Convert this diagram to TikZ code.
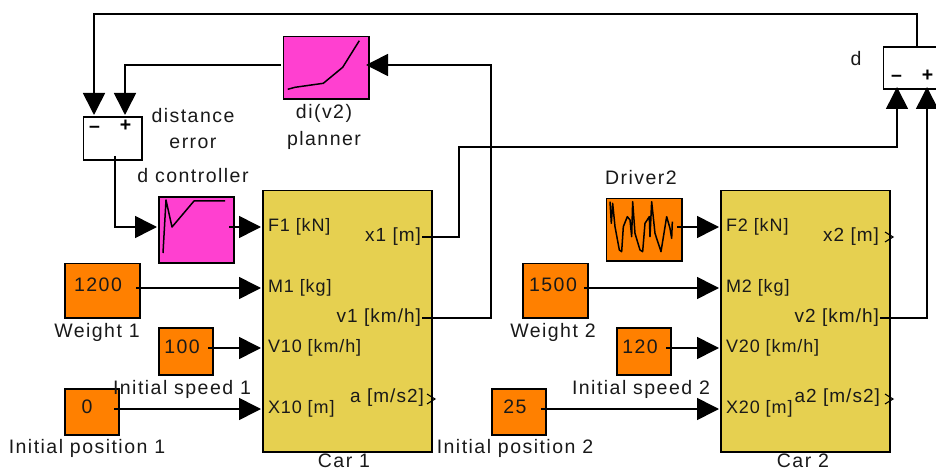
\documentclass[tikz,border=0pt]{standalone}
\usepackage{fontspec}
\setmainfont[LetterSpace=7.5]{Liberation Sans}
\newfontfamily\portfont[LetterSpace=5]{Liberation Sans}
\newfontfamily\rportfont[LetterSpace=5.5]{Liberation Sans}
\usetikzlibrary{arrows.meta}
\definecolor{orangeb}{HTML}{FF8000}
\definecolor{magb}{HTML}{FF40D0}
\definecolor{yelb}{HTML}{E6D050}
\tikzset{
  x=1pt,y=-1pt,
  block/.style={draw=black,line width=1.6pt,anchor=north west,inner sep=0pt,outer sep=0pt},
  lab/.style={font=\fontsize{19.5}{19.5}\selectfont,text=black!90,inner sep=0pt,outer sep=0pt},
  plab/.style={font=\portfont\fontsize{18}{18}\selectfont,text=black!90,inner sep=0pt,outer sep=0pt},
  rlab/.style={font=\rportfont\fontsize{19}{19}\selectfont,text=black!90,inner sep=0pt,outer sep=0pt},
  sgn/.style={font=\bfseries\fontsize{19.5}{19.5}\selectfont,text=black,inner sep=0pt,outer sep=0pt,anchor=base},
  wire/.style={line width=1.6pt,black},
  conn/.style={wire,-{Triangle[length=22pt,width=22pt]},shorten >=0pt},
  plotline/.style={line width=1.5pt,black,line join=round},
  chev/.style={line width=1.1pt,black},
}
\newcommand{\blk}[6]{\node[block,fill=#6,minimum width=#4 pt-#2 pt,minimum height=#5 pt-#3 pt] (#1) at (#2,#3) {};}
\begin{document}
\begin{tikzpicture}
\useasboundingbox (0,0) rectangle (936,470);
\clip (0,0) rectangle (936,470);
% blocks
\blk{sumA}{83.5}{117}{142}{160}{white}
\blk{plan}{283.5}{36.5}{369}{99}{magb}
\blk{ctrl}{159}{197}{234}{263}{magb}
\blk{carA}{263}{190.5}{432}{452}{yelb}
\blk{wA}{65}{263.5}{140}{318}{orangeb}
\blk{sA}{159}{328}{213}{375}{orangeb}
\blk{pA}{65}{389}{119}{435}{orangeb}
\blk{drv}{606.5}{198.5}{682}{261}{orangeb}
\blk{carB}{721}{190.5}{890}{452}{yelb}
\blk{wB}{523}{263.5}{588}{318}{orangeb}
\blk{sB}{617}{328}{671}{375}{orangeb}
\blk{pB}{492}{389}{546}{435}{orangeb}
\blk{sumB}{883.5}{47}{950}{89}{white}
% ports
\coordinate (sAm) at (94,115); \coordinate (sAp) at (125,115); \coordinate (sAo) at (115,156);
\coordinate (sBm) at (897,87); \coordinate (sBp) at (927,87); \coordinate (sBo) at (917,47);
\coordinate (planI) at (366,65); \coordinate (planO) at (281,65);
\coordinate (ctrlI) at (157,227); \coordinate (ctrlO) at (229,227);
\coordinate (cF1) at (261,227); \coordinate (cM1) at (261,288); \coordinate (cV1) at (261,348); \coordinate (cX1) at (261,409);
\coordinate (cF2) at (719,227); \coordinate (cM2) at (719,288); \coordinate (cV2) at (719,348); \coordinate (cX2) at (719,409);
\coordinate (oxA) at (422,237); \coordinate (ovA) at (422,318); \coordinate (ovB) at (880,318);
\coordinate (owA) at (136,288); \coordinate (osA) at (208,348); \coordinate (opA) at (114,409);
\coordinate (owB) at (584,288); \coordinate (osB) at (666,348); \coordinate (opB) at (541,409);
\coordinate (odr) at (677,227);
\coordinate (topL) at (94,14); \coordinate (topR) at (917,14);
\coordinate (midY) at (459,147); \coordinate (vaX) at (491,65);
% connectors
\draw[conn] (sBo) -- (topR) -- (topL) -- (sAm);
\draw[conn] (planO) -| (sAp);
\draw[conn] (sAo) |- (ctrlI);
\draw[conn] (ctrlO) -- (cF1);
\draw[conn] (oxA) -| (midY) -| (sBm);
\draw[conn] (ovA) -| (vaX) -- (planI);
\draw[conn] (ovB) -| (sBp);
\draw[conn] (owA) -- (cM1);
\draw[conn] (osA) -- (cV1);
\draw[conn] (opA) -- (cX1);
\draw[conn] (odr) -- (cF2);
\draw[conn] (owB) -- (cM2);
\draw[conn] (osB) -- (cV2);
\draw[conn] (opB) -- (cX2);
% plots
\draw[plotline] (287.7,89.3) -- (295,87.3) -- (323.3,83.3) -- (342.7,67.3) -- (359.3,40.7);
\draw[plotline] (163,253) -- (166,200) -- (172,227) -- (194,201) -- (225,201);
\draw[plotline,shift={(590,170)},x=0.3333pt,y=-0.3333pt] (60,95) -- (64,160) -- (68,100) -- (75,170) -- (88,240) -- (95,245) -- (100,170) -- (112,140) -- (120,150) -- (125,200) -- (128,95) -- (135,190) -- (150,240) -- (158,245) -- (165,160) -- (178,140) -- (180,200) -- (185,95) -- (195,190) -- (213,245) -- (230,140) -- (240,175) -- (245,205) -- (247,155);
% output chevrons
\coordinate (chA) at (427,394); \coordinate (chB) at (885,232); \coordinate (chC) at (885,394);
\draw[chev] (chA) -- ++(8,5) -- ++(-8,5);
\draw[chev] (chB) -- ++(8,5) -- ++(-8,5);
\draw[chev] (chC) -- ++(8,5) -- ++(-8,5);
% sum signs
\node[sgn] (sgA) at (94.5,133) {–};
\node[sgn] (sgB) at (125.5,132) {+};
\node[sgn] (sgC) at (896.5,82) {–};
\node[sgn] (sgD) at (927.5,82) {+};
% block values
\node[lab] (vA) at (98,285) {1200};
\node[lab] (vB) at (182,347) {100};
\node[lab] (vC) at (87,407) {0};
\node[lab] (vD) at (553,285) {1500};
\node[lab] (vE) at (640,347) {120};
\node[lab] (vF) at (515,407) {25};
% captions
\node[lab] (t1) at (856,59) {d};
\node[lab] (t2) at (193,116) {distance};
\node[lab] (t3) at (193,143) {error};
\node[lab] (t4) at (193,176) {d controller};
\node[lab] (t5) at (324,113) {di(v2)};
\node[lab] (t6) at (324,140) {planner};
\node[lab] (t7) at (97,332) {Weight 1};
\node[lab] (t8) at (182,389) {Initial speed 1};
\node[lab] (t9) at (87,448) {Initial position 1};
\node[lab] (t10) at (641,178) {Driver2};
\node[lab] (t11) at (553,332) {Weight 2};
\node[lab] (t12) at (641,389) {Initial speed 2};
\node[lab] (t13) at (515,448) {Initial position 2};
\node[lab] (t14) at (344,460.5) {Car 1};
\node[lab] (t15) at (803,460.5) {Car 2};
% port labels
\node[plab,anchor=west] (f1) at (268,227) {F1 [kN]};
\node[plab,anchor=west] (m1) at (268,288) {M1 [kg]};
\node[plab,anchor=west] (v1) at (268,348) {V10 [km/h]};
\node[plab,anchor=west] (x1) at (268,409) {X10 [m]};
\node[rlab,anchor=east] (r1) at (421,237) {x1 [m]};
\node[rlab,anchor=east] (r2) at (421,318) {v1 [km/h]};
\node[rlab,anchor=east] (r3) at (424,398) {a [m/s2]};
\node[plab,anchor=west] (f2) at (726,227) {F2 [kN]};
\node[plab,anchor=west] (m2) at (726,288) {M2 [kg]};
\node[plab,anchor=west] (v2) at (726,348) {V20 [km/h]};
\node[plab,anchor=west] (x2) at (726,409) {X20 [m]};
\node[rlab,anchor=east] (r4) at (879,237) {x2 [m]};
\node[rlab,anchor=east] (r5) at (879,318) {v2 [km/h]};
\node[rlab,anchor=east] (r6) at (880,398) {a2 [m/s2]};
\end{tikzpicture}
\end{document}
